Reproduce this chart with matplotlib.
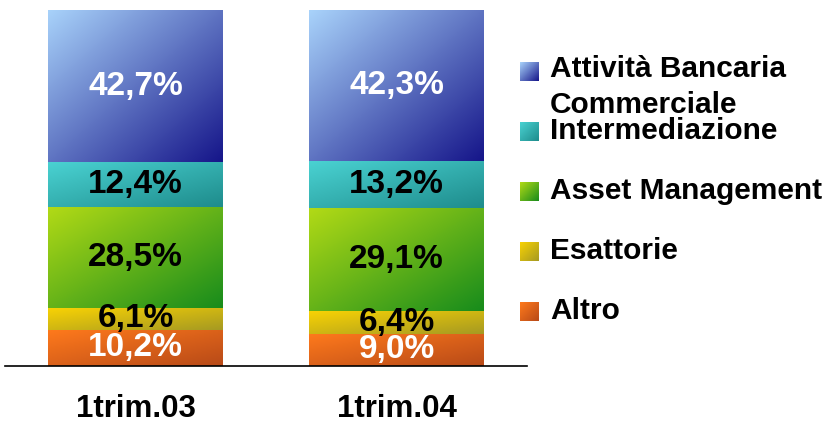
import numpy as np
import matplotlib.pyplot as plt
from matplotlib.colors import LinearSegmentedColormap

plt.rcParams['font.family'] = ['Liberation Sans', 'DejaVu Sans']
plt.rcParams['font.weight'] = 'bold'

# Dati
periodi = ["1trim.03", "1trim.04"]
segmenti = ["Altro", "Esattorie", "Asset Management", "Intermediazione",
            "Attività Bancaria\nCommerciale"]
quote = {
    "Altro": [10.2, 9.0],
    "Esattorie": [6.1, 6.4],
    "Asset Management": [28.5, 29.1],
    "Intermediazione": [12.4, 13.2],
    "Attività Bancaria\nCommerciale": [42.7, 42.3],
}
etichette = {
    "Altro": ["10,2%", "9,0%"],
    "Esattorie": ["6,1%", "6,4%"],
    "Asset Management": ["28,5%", "29,1%"],
    "Intermediazione": ["12,4%", "13,2%"],
    "Attività Bancaria\nCommerciale": ["42,7%", "42,3%"],
}

# colori sfumati (chiaro in alto a sinistra, scuro in basso a destra)
colori = {
    "Altro": ("#ff7a1c", "#b84a18"),
    "Esattorie": ("#f8d204", "#a69a22"),
    "Asset Management": ("#b2da16", "#188c1c"),
    "Intermediazione": ("#4ad2d2", "#1e8c8c"),
    "Attività Bancaria\nCommerciale": ("#a8d2fa", "#16168a"),
}
colore_testo = {
    "Altro": "white", "Esattorie": "black", "Asset Management": "black",
    "Intermediazione": "black", "Attività Bancaria\nCommerciale": "white",
}

W, H = 834, 423
fig = plt.figure(figsize=(W / 100, H / 100), dpi=100)
ax = fig.add_axes([5 / W, (H - 366) / H, 522 / W, 356 / H])

xx, yy = np.meshgrid(np.linspace(0, 1, 64), np.linspace(0, 1, 64))
grad = 0.5 * (xx + yy)

x = np.arange(len(periodi))
larghezza = 0.67
base = np.zeros(len(periodi))
for s in segmenti:
    vals = np.array(quote[s])
    cmap = LinearSegmentedColormap.from_list(s, colori[s])
    bars = ax.bar(x, vals, larghezza, bottom=base, color=colori[s][0], linewidth=0)
    for i, b in enumerate(bars):
        x0, y0 = b.get_x(), b.get_y()
        im = ax.imshow(grad, cmap=cmap, extent=(x0, x0 + b.get_width(), y0, y0 + b.get_height()),
                       aspect='auto', interpolation='bilinear', zorder=2)
        im.set_clip_path(b)
        ax.text(x[i], y0 + vals[i] / 2, etichette[s][i], ha='center', va='center',
                fontsize=24, fontweight='bold', color=colore_testo[s], zorder=3)
    base += vals

ax.set_xlim(-0.5, 1.5)
ax.set_ylim(0, 100)
for side in ['top', 'right', 'left']:
    ax.spines[side].set_visible(False)
ax.spines['bottom'].set_linewidth(1.2)
ax.spines['bottom'].set_zorder(4)
ax.set_yticks([])
ax.set_xticks(x, periodi, fontsize=22.5, fontweight='bold')
ax.tick_params(axis='x', length=0, pad=20)

# Legenda
leg_y = [62, 122, 182, 242, 302]
for s, yt in zip(segmenti[::-1], leg_y):
    lax = fig.add_axes([520 / W, (H - yt - 19) / H, 19 / W, 19 / H])
    lax.imshow(grad, cmap=LinearSegmentedColormap.from_list(s, colori[s]),
               aspect='auto', interpolation='bilinear')
    lax.axis('off')
    righe = s.count("\n")
    fig.text(550 / W, (H - yt - 17 - 34 * righe) / H, s, ha='left', va='baseline',
             fontsize=21.5, fontweight='bold', linespacing=1.38)

fig.savefig("out.png", dpi=100)
